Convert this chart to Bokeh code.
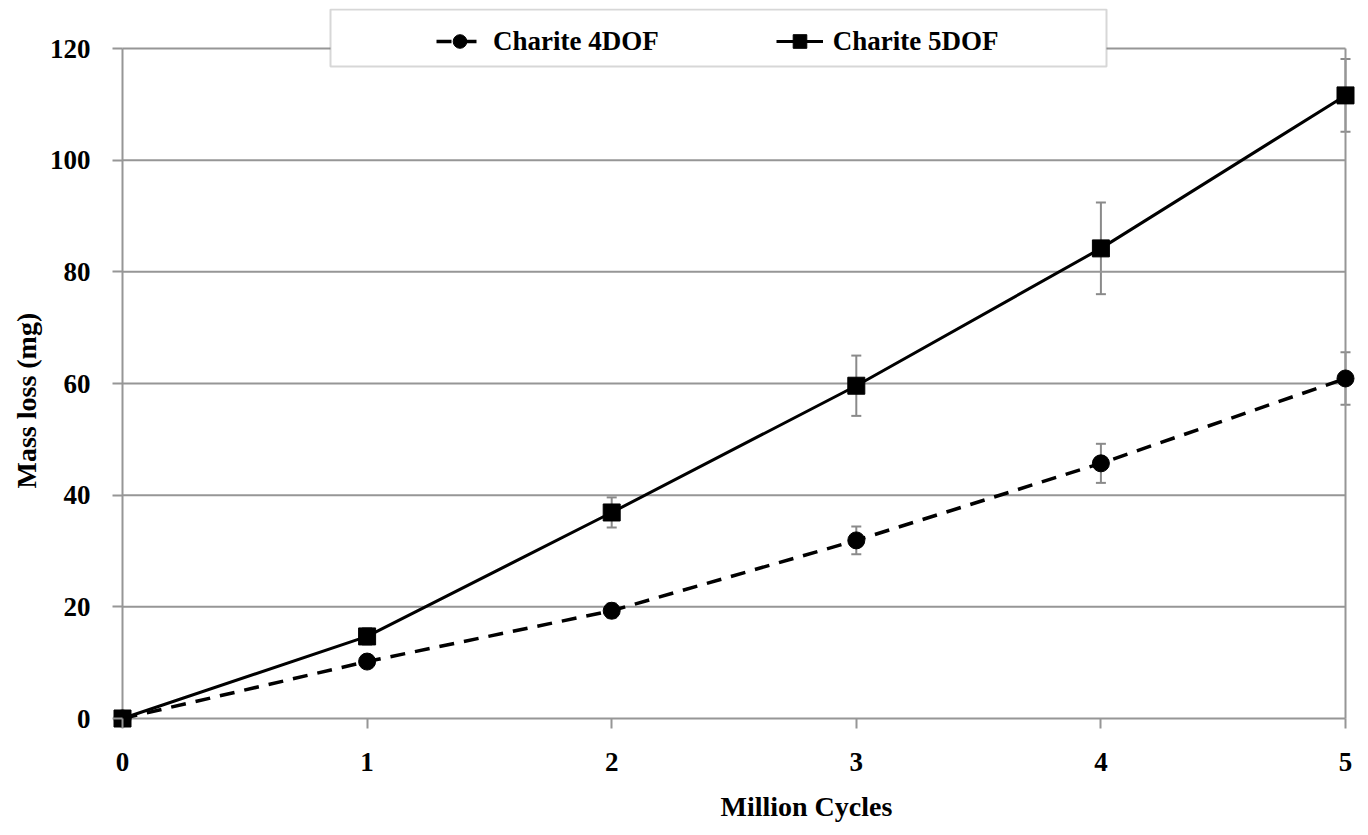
from bokeh.plotting import figure
from bokeh.models import (ColumnDataSource, Whisker, Legend, LegendItem, FixedTicker,
                          TeeHead, BoxAnnotation, Title)
from bokeh.embed import file_html
from bokeh.resources import INLINE

cycles = [0, 1, 2, 3, 4, 5]
dof4 = [0, 10.2, 19.3, 31.9, 45.7, 60.9]
dof4_err = [0, 0.8, 1.3, 2.5, 3.5, 4.7]
dof5 = [0, 14.7, 36.9, 59.6, 84.2, 111.6]
dof5_err = [0, 1.5, 2.7, 5.4, 8.2, 6.5]
y_ticks = [0, 20, 40, 60, 80, 100, 120]
x_ticks = [0, 1, 2, 3, 4, 5]

FONT = "Liberation Serif"
GRAY = "#969696"

# frame geometry (pixels); pads let end markers and the legend show fully
PAD = 10               # px around left/right/bottom
TOP_EXTRA = 40         # px above the y=120 line (legend sits there)
plot_w = 1223          # pixels from x=0 to x=5
plot_h = 670           # pixels from y=0 to y=120
x_lo, x_hi = x_ticks[0], x_ticks[-1]
y_lo, y_hi = y_ticks[0], y_ticks[-1]
ux = (x_hi - x_lo) / plot_w   # data units per px
uy = (y_hi - y_lo) / plot_h

s4 = ColumnDataSource(dict(x=cycles, y=dof4,
                           lo=[a - b for a, b in zip(dof4, dof4_err)],
                           hi=[a + b for a, b in zip(dof4, dof4_err)]))
s5 = ColumnDataSource(dict(x=cycles, y=dof5,
                           lo=[a - b for a, b in zip(dof5, dof5_err)],
                           hi=[a + b for a, b in zip(dof5, dof5_err)]))

p = figure(frame_width=plot_w + 2 * PAD, frame_height=plot_h + PAD + TOP_EXTRA,
           output_backend="svg", toolbar_location=None,
           x_range=(x_lo - PAD * ux, x_hi + PAD * ux),
           y_range=(y_lo - PAD * uy, y_hi + TOP_EXTRA * uy),
           min_border_left=112, min_border_right=12, min_border_top=8, min_border_bottom=100)

p.outline_line_color = None
p.background_fill_color = "white"
p.border_fill_color = "white"
p.xgrid.grid_line_color = None
p.ygrid.grid_line_color = None

# grid lines, axis lines and right border drawn from the tick arrays
p.segment(x0=[x_lo] * len(y_ticks), x1=[x_hi] * len(y_ticks), y0=y_ticks, y1=y_ticks,
          line_color=GRAY, line_width=2)
p.segment(x0=[x_lo, x_hi], x1=[x_lo, x_hi], y0=[y_lo, y_lo], y1=[y_hi, y_hi],
          line_color=GRAY, line_width=2)

p.xaxis.ticker = FixedTicker(ticks=x_ticks)
p.yaxis.ticker = FixedTicker(ticks=y_ticks)
for ax in (p.xaxis[0], p.yaxis[0]):
    ax.axis_line_color = None
    ax.major_tick_line_color = GRAY
    ax.major_tick_line_width = 2
    ax.minor_tick_line_color = None
    ax.major_tick_out = 0
    ax.major_tick_in = PAD
    ax.major_label_text_font = FONT
    ax.major_label_text_font_style = "bold"
    ax.major_label_text_font_size = "27px"
    ax.major_label_text_color = "black"

p.xaxis.major_label_standoff = 24
p.yaxis.major_label_standoff = 22

# axis titles (placed off-centre as in the original)
xt = Title(text="Million Cycles", align="left", offset=608, standoff=31,
           text_font=FONT, text_font_style="bold", text_font_size="28px", text_color="black")
p.add_layout(xt, "below")
yt = Title(text="Mass loss (mg)", align="left", offset=240, standoff=10,
           text_font=FONT, text_font_style="bold", text_font_size="28px", text_color="black")
p.add_layout(yt, "left")

# error bars
for src in (s4, s5):
    w = Whisker(source=src, base="x", lower="lo", upper="hi",
                line_color="#8a8a8a", line_width=2,
                upper_head=TeeHead(size=10, line_color="#8a8a8a", line_width=2),
                lower_head=TeeHead(size=10, line_color="#8a8a8a", line_width=2))
    p.add_layout(w)

l4 = p.line("x", "y", source=s4, line_color="black", line_width=3.5, line_dash="15 10")
m4 = p.scatter("x", "y", source=s4, marker="circle", size=17, color="black")
l5 = p.line("x", "y", source=s5, line_color="black", line_width=3)
m5 = p.scatter("x", "y", source=s5, marker="square", size=17, color="black")

# legend frame box: pixel offsets from the (x=0, y=120) corner, converted to data units
box = BoxAnnotation(left=x_lo + 208 * ux, right=x_lo + 984 * ux,
                    bottom=y_hi - 18 * uy, top=y_hi + 39 * uy,
                    fill_color="white", fill_alpha=1,
                    line_color="#7a7a7a", line_width=2, level="annotation")
p.add_layout(box)

legend = Legend(items=[LegendItem(label="Charite 4DOF", renderers=[l4, m4]),
                       LegendItem(label="Charite 5DOF", renderers=[l5, m5])],
                orientation="horizontal", location=(324, 670),
                label_text_font=FONT, label_text_font_style="bold",
                label_text_font_size="27px", label_text_color="black",
                border_line_color=None, background_fill_alpha=0,
                padding=10, margin=0, spacing=117, glyph_width=47,
                glyph_height=34, label_standoff=10)
p.add_layout(legend, "center")

html = file_html(p, INLINE)
open("out.html", "w").write(html)
